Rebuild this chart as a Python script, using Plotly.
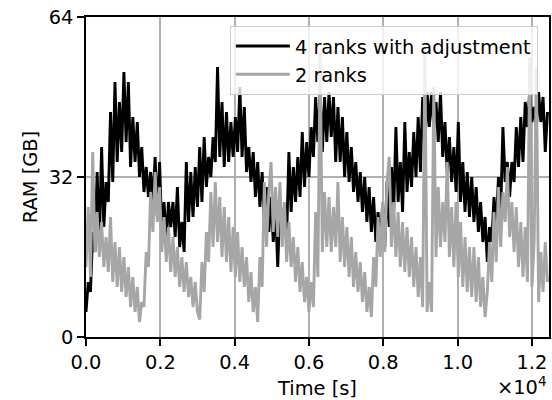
import numpy as np
import plotly.graph_objects as go

# Sampling interval of the RAM monitor (seconds)
SAMPLE_INTERVAL_S = 60

# RAM usage [GB], one value per sample
ram_4_ranks_adjusted = [
    5, 11, 9, 21, 17, 33, 19, 38, 22, 31,
    27, 45, 31, 51, 35, 47, 37, 53, 39, 51,
    34, 44, 35, 43, 32, 38, 29, 34, 28, 33,
    27, 36, 24, 35, 21, 27, 19, 27, 22, 27,
    20, 30, 18, 23, 17, 35, 23, 33, 24, 34,
    26, 38, 27, 40, 30, 36, 32, 40, 35, 54,
    36, 47, 34, 45, 35, 43, 36, 44, 37, 50,
    36, 46, 33, 38, 31, 37, 28, 35, 26, 33,
    23, 30, 21, 28, 19, 26, 14, 27, 22, 26,
    20, 37, 25, 34, 27, 36, 28, 41, 30, 39,
    32, 42, 36, 48, 39, 49, 37, 48, 39, 49,
    40, 48, 35, 46, 35, 44, 32, 41, 31, 38,
    29, 35, 27, 33, 25, 32, 23, 30, 21, 28,
    19, 25, 19, 26, 18, 31, 22, 34, 25, 42,
    27, 35, 25, 43, 29, 37, 30, 41, 32, 44,
    33, 48, 38, 49, 42, 49, 42, 47, 39, 49,
    36, 43, 33, 40, 31, 38, 29, 43, 27, 35,
    25, 33, 24, 32, 23, 30, 21, 27, 19, 24,
    15, 22, 19, 28, 22, 32, 25, 42, 31, 35,
    28, 35, 31, 42, 34, 44, 35, 47, 42, 49,
    43, 46, 42, 49, 43, 48, 37, 45,
]

ram_2_ranks = [
    14, 26, 12, 37, 17, 25, 16, 23, 14, 20,
    13, 24, 11, 19, 10, 18, 9, 16, 8, 14,
    6, 12, 5, 10, 3, 7, 6, 17, 14, 29,
    21, 33, 23, 30, 17, 24, 15, 22, 13, 20,
    12, 18, 10, 16, 9, 15, 8, 12, 6, 11,
    5, 3.5, 15, 9, 21, 15, 29, 18, 31, 19,
    28, 16, 26, 15, 24, 13, 22, 12, 21, 11,
    18, 10, 16, 7, 13, 5, 10, 3, 16, 10,
    31, 18, 29, 35, 21, 30, 20, 31, 18, 27,
    15, 23, 14, 20, 11, 18, 9, 15, 7, 12,
    5, 11, 6, 25, 12, 57, 17, 29, 18, 28,
    17, 26, 18, 31, 15, 24, 14, 22, 12, 20,
    10, 17, 9, 15, 7, 13, 5, 10, 4, 16,
    10, 24, 16, 27, 17, 31, 36, 18, 27, 16,
    25, 14, 23, 13, 22, 12, 20, 10, 18, 8,
    16, 6, 58, 5, 11, 5, 50, 16, 30, 18,
    27, 19, 35, 16, 26, 14, 27, 12, 23, 10,
    20, 9, 18, 8, 18, 7, 16, 6, 12, 4,
    9, 19, 11, 25, 15, 30, 18, 29, 23, 34,
    20, 27, 17, 26, 14, 23, 12, 22, 11, 56,
    10, 19, 54, 7, 17, 9, 19, 11,
]

series_names = ["4 ranks with adjustment", "2 ranks"]
series_colors = ["#000000", "#a6a6a6"]

x_tick_values = [0, 2000, 4000, 6000, 8000, 10000, 12000]
x_tick_labels = ["0.0", "0.2", "0.4", "0.6", "0.8", "1.0", "1.2"]
y_tick_values = [0, 32, 64]
y_tick_labels = ["0", "32", "64"]

FONT = "DejaVu Sans"
FS = 19.4

fig = go.Figure()
for name, color, ram in zip(series_names, series_colors,
                            [ram_4_ranks_adjusted, ram_2_ranks]):
    t = np.arange(len(ram)) * SAMPLE_INTERVAL_S
    fig.add_trace(go.Scatter(
        x=t, y=ram, mode="lines", name=name,
        line=dict(color=color, width=2.9),
    ))

axis_common = dict(
    showline=True, linecolor="black", linewidth=1.5, mirror=True,
    ticks="outside", ticklen=7, tickwidth=1.5, tickcolor="black",
    showgrid=True, gridcolor="#b0b0b0", gridwidth=1.5,
    zeroline=False,
    tickfont=dict(family=FONT, size=FS, color="black"),
    ticklabeloverflow="allow",
    automargin=False,
)

fig.update_layout(
    width=552, height=400,
    margin=dict(l=86, r=3, t=17, b=63),
    plot_bgcolor="white", paper_bgcolor="white",
    font=dict(family=FONT, size=FS, color="black"),
    showlegend=True,
    legend=dict(
        x=0.976, y=0.972, xanchor="right", yanchor="top",
        bgcolor="rgba(255,255,255,0.8)", bordercolor="#cccccc", borderwidth=1,
        font=dict(family=FONT, size=FS, color="black"),
        itemwidth=54,
    ),
    xaxis=dict(
        range=[0, 12460],
        tickvals=x_tick_values, ticktext=x_tick_labels,
        title=dict(text="Time [s]", font=dict(family=FONT, size=FS), standoff=8),
        **axis_common,
    ),
    yaxis=dict(
        range=[0, 64],
        tickvals=y_tick_values, ticktext=y_tick_labels,
        title=dict(text="RAM [GB]", font=dict(family=FONT, size=FS), standoff=6),
        **axis_common,
    ),
    annotations=[dict(
        text="×10<sup>4</sup>", xref="paper", yref="paper",
        x=1.0, y=-0.152, xanchor="right", yanchor="middle",
        showarrow=False, font=dict(family=FONT, size=FS, color="black"),
    )],
)

# Remove the default page margin so the 552x400 figure fills the window exactly.
fig.write_html(
    "out.html",
    config={"displayModeBar": False},
    post_script="document.body.style.margin='0';document.body.style.overflow='hidden';",
)
